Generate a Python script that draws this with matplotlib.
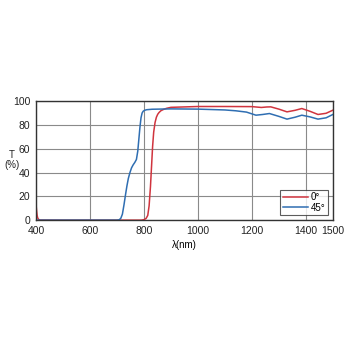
import numpy as np
import matplotlib.pyplot as plt

# transmission curves
wl_0 = [400, 402, 404, 406, 409, 415, 500, 700, 790, 800, 808, 814, 819, 824, 828, 832, 836, 841,
        846, 851, 856, 863, 872, 884, 900, 1000, 1100, 1200, 1220, 1235, 1255, 1270, 1300, 1330,
        1360, 1385, 1415, 1445, 1475, 1500]
t_0 = [13, 8, 4, 2, 0.7, 0.1, 0, 0, 0, 0.4, 1.5, 4, 12, 28, 45, 62, 74, 82,
       86.5, 89, 90.5, 92, 93, 94, 94.8, 95.5, 95.5, 95.4, 95.0, 94.7, 95.1, 95.2, 93.3, 91.0,
       92.3, 93.8, 91.5, 88.8, 89.8, 92.4]

wl_45 = [400, 500, 700, 708, 714, 720, 726, 732, 737, 742, 748, 754, 760, 766, 772, 777, 781,
         785, 789, 793, 797, 802, 810, 830, 900, 1000, 1100, 1140, 1180, 1215, 1240, 1265, 1300,
         1330, 1360, 1385, 1415, 1445, 1475, 1500]
t_45 = [0, 0, 0, 0.3, 1.5, 5, 13, 22, 29, 35, 40, 44, 46.5, 48.5, 51, 58, 68,
        78, 86, 90, 91.5, 92.3, 92.8, 93.2, 93.5, 93.3, 92.6, 91.9, 90.8, 88.2, 88.8, 89.6, 87.2,
        84.9, 86.5, 88.2, 86.8, 84.9, 86.0, 88.8]

x_ticks = [400, 600, 800, 1000, 1200, 1400, 1500]
y_ticks = [0, 20, 40, 60, 80, 100]

plt.rcParams['font.family'] = ['Liberation Sans', 'DejaVu Sans']

fig = plt.figure(figsize=(3.5, 3.5), dpi=100)
ax = fig.add_axes([0.103, 0.371, 0.848, 0.34])

ax.plot(wl_0, t_0, color='#d0343e', lw=1.1, label='0°')
ax.plot(wl_45, t_45, color='#2f6eb2', lw=1.1, label='45°')

ax.set_xlim(400, 1500)
ax.set_ylim(0, 100)
ax.set_xticks(x_ticks)
ax.set_yticks(y_ticks)
ax.tick_params(labelsize=7.5, length=0, pad=4, colors='#222222')
ax.grid(True, color='#8a8a8a', lw=0.8)
ax.set_axisbelow(True)
for s in ax.spines.values():
    s.set_color('#333333')
    s.set_linewidth(1.0)

ax.set_xlabel('λ(nm)', fontsize=7, labelpad=3)
fig.text(12 / 350, 1 - 160 / 350, 'T\n(%)', fontsize=7, ha='center', va='center',
         linespacing=1.0, color='#222222')

leg = ax.legend(loc='lower right', fontsize=7, frameon=True, fancybox=False,
                handlelength=2.6, handletextpad=0.3, borderpad=0.25, labelspacing=0.05,
                borderaxespad=0.5, edgecolor='#333333')
leg.get_frame().set_linewidth(0.8)

fig.savefig('out.png', dpi=100, facecolor='white')
